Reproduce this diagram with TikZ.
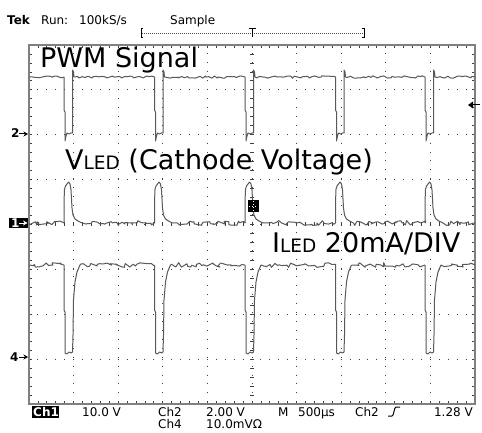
\documentclass[tikz,border=0pt]{standalone}
\usepackage{fontspec}
\setmainfont{DejaVu Sans}
\usetikzlibrary{decorations.pathmorphing,arrows.meta}

\tikzset{
  trace/.style={black!65, line width=1pt, line join=round},
  noisy/.style={trace, decorate, decoration={random steps, segment length=2.5pt, amplitude=#1}},
  noisy/.default=1pt,
  griddot/.style={black!75, line width=1pt, dash pattern=on 1pt off 7.92pt, dash phase=0.5pt},
  gridtick/.style={black!75, line width=0.8pt},
  chanarrow/.style={-{Stealth[length=4.5pt,width=5pt]}, line width=1pt},
  biglabel/.style={anchor=base west, inner sep=0pt, font=\fontsize{27}{27}\selectfont},
  teklabel/.style={anchor=base west, inner sep=0pt, font=\fontsize{12}{12}\selectfont},
}
\newcommand{\sublabel}[1]{{\fontsize{18.5}{18.5}\selectfont #1}}

\begin{document}
\begin{tikzpicture}[x=1pt,y=-1pt]
\pgfmathsetseed{11}
\useasboundingbox[fill=white] (0,0) rectangle (482,433);

% graticule
\foreach \i in {1,...,9}
  \draw[griddot] ({29+44.6*\i},45) -- ({29+44.6*\i},404);
\foreach \j in {1,...,7}
  \draw[griddot] (29,{45+44.875*\j}) -- (475,{45+44.875*\j});
\foreach \k in {1,...,49} {
  \draw[gridtick] ({29+8.92*\k},45) -- ++(0,3);
  \draw[gridtick] ({29+8.92*\k},404) -- ++(0,-3);
  \draw[gridtick] ({29+8.92*\k},222) -- ++(0,4);
}
\foreach \k in {1,...,39} {
  \draw[gridtick] (29,{45+8.975*\k}) -- ++(3,0);
  \draw[gridtick] (475,{45+8.975*\k}) -- ++(-3,0);
  \draw[gridtick] (250,{45+8.975*\k}) -- ++(4,0);
}
\draw[black!50, line width=1.5pt] (29,45) rectangle (475,404);

% PWM signal
\foreach \a/\b in {29/64, 74/154.5, 164.5/245, 255/335.5, 345.5/425, 435/475}
  \draw[noisy=1.2pt] (\a,77) -- (\b,77);
\foreach \s in {64,154.5,245,335.5,425} {
  \begin{scope}[xshift=\s pt]
  \draw[trace] (0,77) -- (0,110) -- (1,112) -- (1,141) -- (2,136) -- (3,133) -- (5,134)
    -- (7,133) -- (8.5,133) -- (8.5,70) -- (9.5,72) -- (10,77);
  \end{scope}
}

% cathode voltage
\foreach \a/\b in {29/64, 82/154.5, 172.5/245, 263/335.5, 353.5/425, 443/475}
  \draw[noisy=2.4pt] (\a,223) -- (\b,223);
\foreach \s in {64,154.5,245,335.5,425} {
  \begin{scope}[xshift=\s pt]
  \draw[trace] (0,223) -- (0.3,190) -- (1.5,186) -- (3,184) -- (4.5,182) -- (6,184)
    -- (7,190) -- (8,208) -- (9,215) -- (11,219) -- (14,221) -- (18,223);
  \end{scope}
}

% LED current
\foreach \a/\b in {29/64, 80/154.5, 170.5/245, 261/335.5, 351.5/425, 441/475}
  \draw[noisy=2.4pt] (\a,265) -- (\b,265);
\foreach \s in {64,154.5,245,335.5,425} {
  \begin{scope}[xshift=\s pt]
  \draw[trace] (0,265) -- (0,310) -- (1,312) -- (1,353) -- (3,354) -- (5,352) -- (7,353)
    -- (8.5,352) -- (9,335) -- (9.5,300) -- (11,282) -- (13,272) -- (16,265);
  \end{scope}
}

% markers
\fill (248,200) rectangle (259,212);
\draw[white, line width=0.8pt, dash pattern=on 1pt off 2pt] (249,206) -- (258,206);
\draw[white, line width=0.8pt, dash pattern=on 1pt off 2pt] (253.5,201) -- (253.5,211);
\fill (468,105) -- (473,101.5) -- (473,108.5) -- cycle;
\draw[line width=1pt] (473,105) -- (480,105);

\node[teklabel, font=\bfseries\fontsize{12}{12}\selectfont] (ch2num) at (11,138) {2};
\draw[chanarrow] (18.5,134) -- (28,134);
\fill (9,218) rectangle (28,228);
\node[teklabel, white, font=\bfseries\fontsize{12}{12}\selectfont] (ch1num) at (11,227.5) {1};
\draw[chanarrow, white] (19,223) -- (27.5,223);
\node[teklabel, font=\bfseries\fontsize{12}{12}\selectfont] (ch4num) at (10,361) {4};
\draw[chanarrow] (18.5,357) -- (28,357);

% record bracket
\draw[black!70, line width=0.8pt, dash pattern=on 1pt off 1pt] (142,33) -- (364,33);
\draw[line width=1pt] (143,29) -- (141,29) -- (141,38) -- (143,38);
\draw[line width=1pt] (362,29) -- (364,29) -- (364,38) -- (362,38);
\draw[line width=1pt] (249,29) -- (256,29) (252.5,29) -- (252.5,37);

% big labels
\node[biglabel] (pwm) at (40,68) {PWM Signal};
\node[biglabel] (vled) at (65,170) {V\sublabel{LED} (Cathode Voltage)};
\node[biglabel] (iled) at (272,252) {I\sublabel{LED} 20mA/DIV};

% readouts
\node[teklabel, font=\bfseries\fontsize{12}{12}\selectfont] (tek) at (7,25) {Tek};
\node[teklabel] (run) at (41,25) {Run:};
\node[teklabel] (rate) at (79,25) {100kS/s};
\node[teklabel] (mode) at (170,25) {Sample};

\fill (32,406) rectangle (59,418);
\node[teklabel, white, font=\bfseries\fontsize{12}{12}\selectfont] (ch1) at (33,416) {Ch1};
\node[teklabel] (ch1v) at (82,416) {10.0 V};
\node[teklabel] (ch2) at (158,416) {Ch2};
\node[teklabel] (ch2v) at (206,416) {2.00 V};
\node[teklabel] (tb) at (278,416) {M};
\node[teklabel] (tbv) at (298,416) {500µs};
\node[teklabel] (trig) at (355,416) {Ch2};
\draw[line width=1pt] (388,416) -- (392,416) .. controls (394,416) and (394,407) .. (396,407) -- (400,407);
\node[teklabel, anchor=base east] (trigv) at (473,416) {1.28 V};
\node[teklabel] (ch4) at (158,428) {Ch4};
\node[teklabel] (ch4v) at (206,428) {10.0mVΩ};

\end{tikzpicture}
\end{document}
